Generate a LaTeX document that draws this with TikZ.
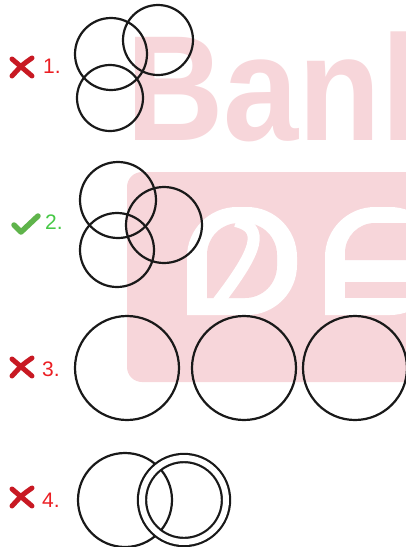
\documentclass[tikz,border=0pt]{standalone}
\usepackage{fontspec}
\setmainfont{Liberation Sans}
\usepackage{tikz}
\usetikzlibrary{positioning}

\definecolor{wmpink}{RGB}{247,214,218}
\definecolor{optred}{RGB}{235,30,35}
\definecolor{optgreen}{RGB}{70,200,70}
\definecolor{crossred}{RGB}{200,25,35}
\definecolor{tickgreen}{RGB}{95,180,75}

\begin{document}
\begin{tikzpicture}[
        x=1pt, y=-1pt,
        ring/.style={circle, draw=black!90, line width=2.2pt, inner sep=0pt},
        dring/.style={ring, double=white, double distance=6pt},
        optlabel/.style={font=\fontsize{21}{21}\selectfont, inner sep=0pt},
        wmtext/.style={font=\fontsize{150}{150}\selectfont\bfseries, text=wmpink, inner sep=0pt, xscale=0.9},
        crossmark/.pic={
            \draw[crossred, line width=5pt, line cap=round] (-10,-8) -- (10,9);
            \draw[crossred, line width=5pt, line cap=round] (10,-9) .. controls (0,-2) .. (-10,9);
        },
        tickmark/.pic={
            \draw[tickgreen, line width=5.5pt, line cap=round, line join=round] (-12,1) -- (-5,8) -- (12,-8);
        }
    ]
    \useasboundingbox (0,0) rectangle (406,547);
    \clip (0,0) rectangle (406,547);

    % watermark
    \node[wmtext, anchor=base west] (bank) at (126,140) {Bank};
    \fill[wmpink, rounded corners=15pt] (127,172) rectangle (430,382);
    \fill[white, rounded corners=50pt] (187,315) -- (187,207) -- (297,207) -- (297,315) [sharp corners] -- cycle;
    \fill[wmpink, rounded corners=32pt] (207,298) -- (207,223) -- (277,223) -- (277,298) [sharp corners] -- cycle;
    \draw[white, line width=12pt] (236,221) .. controls (265,228) and (258,250) .. (218,302);
    \fill[white, rounded corners=50pt] (325,315) -- (325,207) -- (440,207) -- (440,315) [sharp corners] -- cycle;
    \fill[wmpink, rounded corners=30pt] (345,260) -- (345,223) -- (440,223) [sharp corners] -- (440,260) -- cycle;
    \fill[wmpink] (345,282) rectangle (440,298);

    % option 1
    \node[ring, minimum size=72pt] (a1) at (111,54) {};
    \node[ring, minimum size=70pt] (b1) at (158,40) {};
    \node[ring, minimum size=66pt] (c1) at (110,98) {};
    \node[optlabel, text=optred] (lab1) at (52,66) {1.};
    \pic at (22,67) {crossmark};

    % option 2
    \node[ring, minimum size=76pt] (a2) at (118,200) {};
    \node[ring, minimum size=74pt] (b2) at (117,250) {};
    \node[ring, minimum size=76pt] (c2) at (164,225) {};
    \node[optlabel, text=optgreen] (lab2) at (54,222) {2.};
    \pic at (26,224) {tickmark};

    % option 3
    \node[ring, minimum size=104pt] (a3) at (127,368) {};
    \node[ring, minimum size=104pt] (b3) at (244,368) {};
    \node[ring, minimum size=104pt] (c3) at (355,368) {};
    \node[optlabel, text=optred] (lab3) at (51,369) {3.};
    \pic at (22,367) {crossmark};

    % option 4
    \node[ring, minimum size=94pt] (a4) at (125,500) {};
    \node[dring, minimum size=84pt] (b4) at (184,500) {};
    \node[optlabel, text=optred] (lab4) at (51,500) {4.};
    \pic at (22,497) {crossmark};
\end{tikzpicture}
\end{document}
